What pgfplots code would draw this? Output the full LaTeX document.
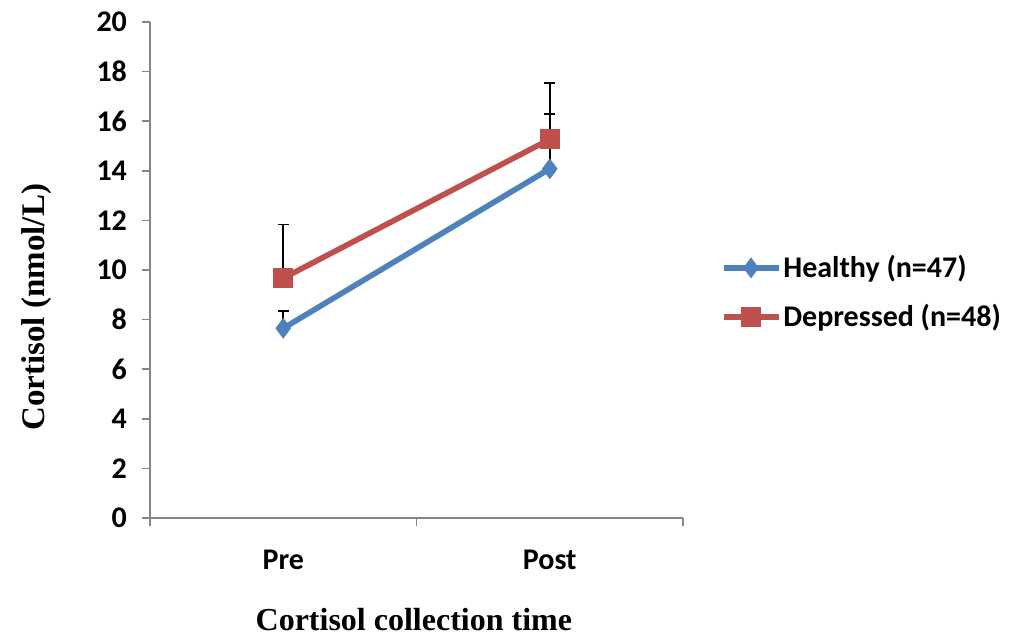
\documentclass[border=0pt]{standalone}
\usepackage{fontspec}
\setmainfont{Liberation Serif}
\newfontfamily\carlito{Carlito}
\usepackage{pgfplots}
\pgfplotsset{compat=1.18}
\definecolor{hblue}{HTML}{4F81BD}
\definecolor{dred}{HTML}{C0504D}
\definecolor{axgray}{HTML}{868686}
\begin{document}
\begin{tikzpicture}
\path[use as bounding box] (-75pt,-62.5pt) rectangle (432.5pt,259pt);
\begin{axis}[
  at={(0pt,0pt)}, anchor=origin,
  scale only axis,
  width=266.5pt, height=248pt,
  xmin=0, xmax=2, ymin=0, ymax=20,
  axis x line*=bottom, axis y line*=left,
  axis line style={draw=axgray, line width=0.75pt},
  xtick={0,1,2}, xticklabels={},
  extra x ticks={0.5,1.5}, extra x tick labels={Pre,Post},
  extra x tick style={tick style={draw=none}},
  ytick={0,2,...,20},
  tick align=outside,
  major tick length=4pt,
  tick style={draw=axgray, line width=0.75pt},
  /pgf/number format/assume math mode=true,
  tick label style={font=\carlito\bfseries\fontsize{15}{18}\selectfont, text=black},
  xticklabel style={yshift=-8.5pt},
  yticklabel style={xshift=-4pt},
  xlabel={Cortisol collection time},
  ylabel={Cortisol (nmol/L)},
  label style={font=\bfseries\fontsize{16}{19}\selectfont},
  xlabel style={at={(axis description cs:0.495,0)}, anchor=center, yshift=-51pt},
  ylabel style={at={(axis description cs:-0.212,0.425)}, anchor=center, font=\bfseries\fontsize{16.5}{19}\selectfont},
  legend style={at={(axis description cs:1.07,0.4546)}, anchor=west, draw=none, fill=none,
    font=\carlito\bfseries\fontsize{15}{18}\selectfont, inner sep=0pt, row sep=10pt,
    nodes={inner sep=1pt}},
  legend cell align=left,
  legend image code/.code={\draw[mark repeat=2,mark phase=2,#1] plot coordinates {(0pt,0pt) (13.75pt,0pt) (27.5pt,0pt)};},
  clip=false,
]
\addplot[hblue, line width=2.8pt, mark=diamond*, mark size=4.8pt, mark options={solid, fill=hblue, line width=0.5pt},
  error bars/.cd, y dir=plus, y explicit,
  error bar style={black, line width=0.85pt},
  error mark options={rotate=90, mark size=2.75pt, black, line width=0.85pt}]
  coordinates {(0.5,7.65) +- (0,0.71) (1.5,14.08) +- (0,2.21)};
\addlegendentry{Healthy (n=47)}
\addplot[dred, line width=2.8pt, mark=square*, mark size=4.8pt, mark options={solid, fill=dred, line width=0.5pt},
  error bars/.cd, y dir=plus, y explicit,
  error bar style={black, line width=0.85pt},
  error mark options={rotate=90, mark size=2.75pt, black, line width=0.85pt}]
  coordinates {(0.5,9.67) +- (0,2.17) (1.5,15.27) +- (0,2.26)};
\addlegendentry{Depressed (n=48)}
\end{axis}
\end{tikzpicture}
\end{document}
